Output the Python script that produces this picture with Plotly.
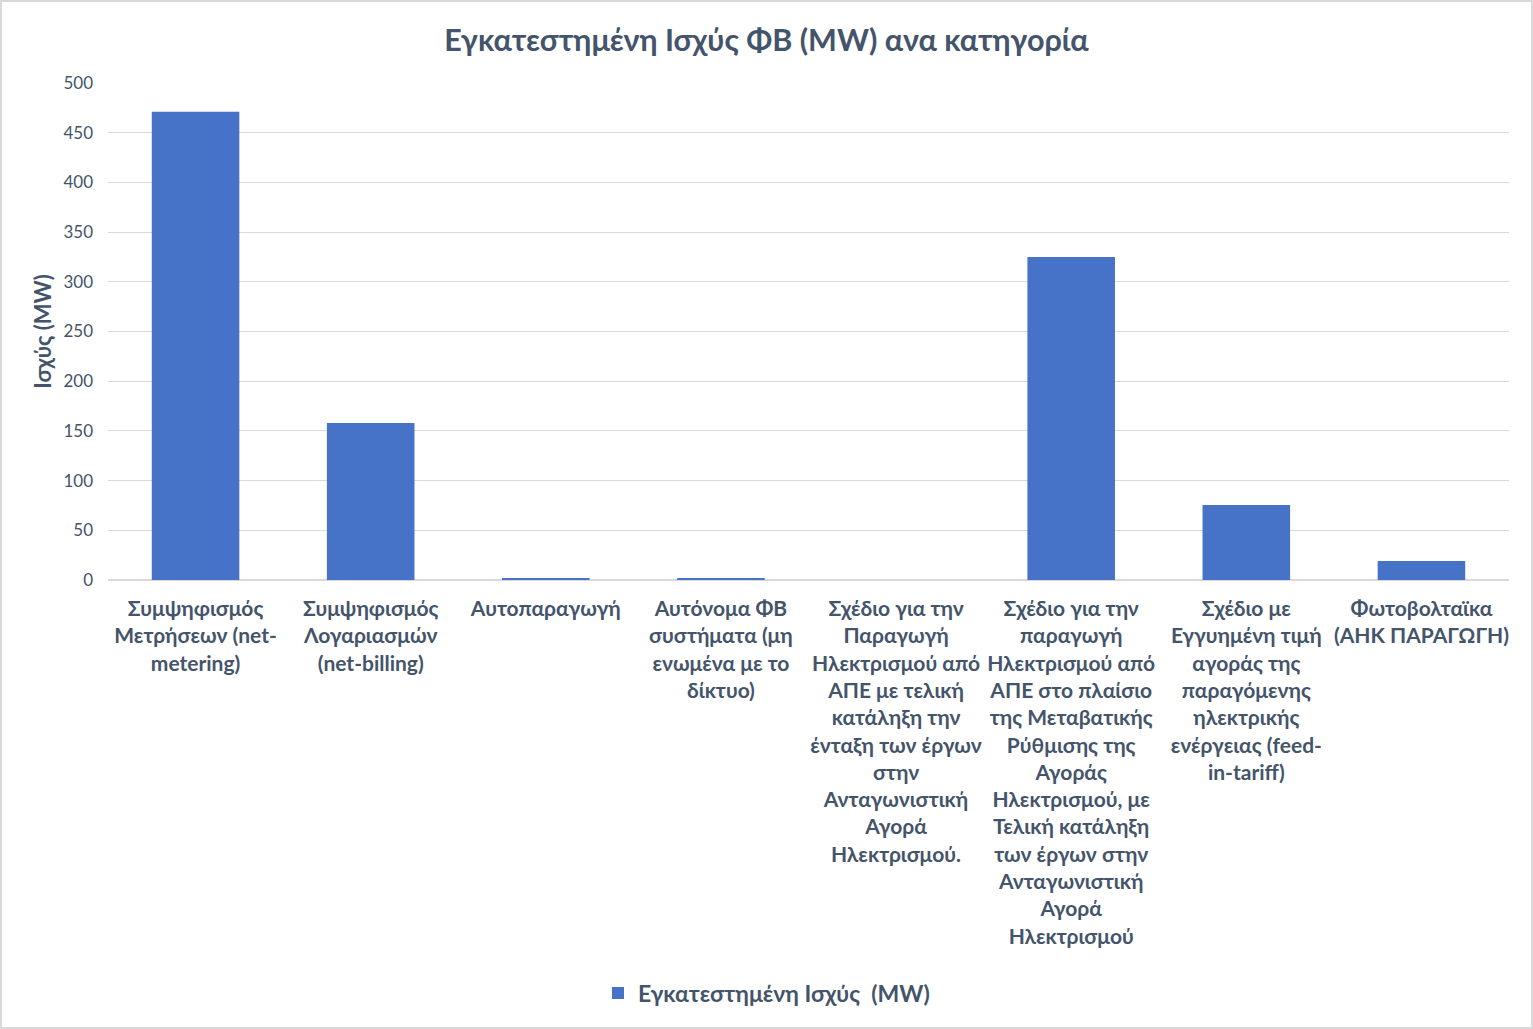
import plotly.graph_objects as go

categories = [
    "Συμψηφισμός<br>Μετρήσεων (net-<br>metering)",
    "Συμψηφισμός<br>Λογαριασμών<br>(net-billing)",
    "Αυτοπαραγωγή",
    "Αυτόνομα ΦΒ<br>συστήματα (μη<br>ενωμένα με το<br>δίκτυο)",
    "Σχέδιο για την<br>Παραγωγή<br>Ηλεκτρισμού από<br>ΑΠΕ με τελική<br>κατάληξη την<br>ένταξη των έργων<br>στην<br>Ανταγωνιστική<br>Αγορά<br>Ηλεκτρισμού.",
    "Σχέδιο για την<br>παραγωγή<br>Ηλεκτρισμού από<br>ΑΠΕ στο πλαίσιο<br>της Μεταβατικής<br>Ρύθμισης της<br>Αγοράς<br>Ηλεκτρισμού, με<br>Τελική κατάληξη<br>των έργων στην<br>Ανταγωνιστική<br>Αγορά<br>Ηλεκτρισμού",
    "Σχέδιο με<br>Εγγυημένη τιμή<br>αγοράς της<br>παραγόμενης<br>ηλεκτρικής<br>ενέργειας (feed-<br>in-tariff)",
    "Φωτοβολταϊκα<br>(ΑΗΚ ΠΑΡΑΓΩΓΗ)",
]
values = [471, 158, 1.5, 1.5, 0, 325, 75.5, 19]
series_name = "Εγκατεστημένη Ισχύς  (MW)"
y_ticks = [0, 50, 100, 150, 200, 250, 300, 350, 400, 450, 500]

W, H = 1533, 1029
L, R, T, B = 108, 24, 83, 449
pw, ph = W - L - R, H - T - B
text_color = "#44546A"
font = "Lato, 'Open Sans', sans-serif"

fig = go.Figure()
fig.add_trace(go.Bar(
    x=categories, y=values, name=series_name,
    marker=dict(color="#4672c8", line=dict(width=0)),
))

fig.update_layout(
    width=W, height=H,
    margin=dict(l=L, r=R, t=T, b=B, autoexpand=False),
    paper_bgcolor="white", plot_bgcolor="white",
    font=dict(family=font, color=text_color),
    title=dict(text="<b>Εγκατεστημένη Ισχύς ΦΒ (MW) ανα κατηγορία</b>",
               x=0.5, xanchor="center", y=1 - 40 / H, yanchor="middle",
               font=dict(size=30.5, color=text_color, family=font)),
    bargap=0.5,
    showlegend=True,
    legend=dict(orientation="h", xref="container", x=0.5, xanchor="center",
                yref="container", y=1 - 993 / H, yanchor="middle",
                font=dict(size=23, color=text_color, family=font, weight="bold")),
    xaxis=dict(tickangle=0, automargin=False, showgrid=False,
               tickfont=dict(size=21, color=text_color, family=font, weight="bold"),
               showline=False, ticks="", ticklabelstandoff=14),
    yaxis=dict(range=[0, 500], tickvals=y_ticks, automargin=False,
               showgrid=True, gridcolor="#d9d9d9", gridwidth=1,
               zeroline=True, zerolinecolor="#d9d9d9", zerolinewidth=2,
               tickfont=dict(size=17, color=text_color, family=font),
               ticks="", ticklabelstandoff=14,
               title=dict(text="<b>Ισχύς (MW)</b>", standoff=5,
                          font=dict(size=22, color=text_color, family=font))),
    shapes=[dict(type="rect", xref="paper", yref="paper",
                 x0=-(L - 1) / pw, x1=1 + (R - 1) / pw,
                 y0=-(B - 1) / ph, y1=1 + (T - 1) / ph,
                 line=dict(color="#d9d9d9", width=2), layer="below")],
)

fig.write_html("out.html", config={"displayModeBar": False},
               post_script="document.body.style.margin='0';document.body.style.overflow='hidden';")
